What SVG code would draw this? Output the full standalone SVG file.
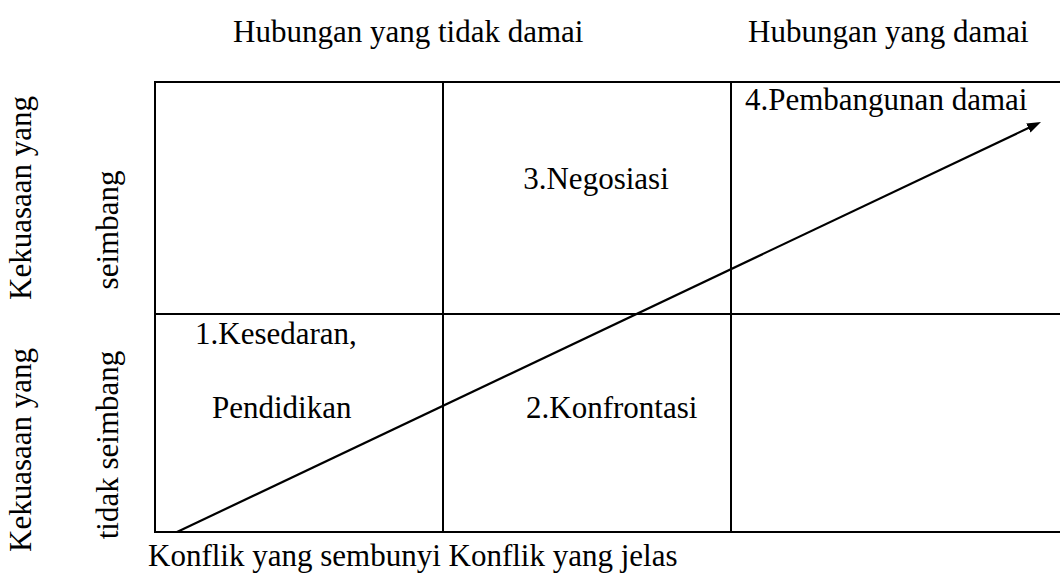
<svg xmlns="http://www.w3.org/2000/svg" width="1060" height="574" viewBox="0 0 1060 574">
  <style>
    .t { font-family: "Liberation Serif", "Times New Roman", serif; font-size: 31px; fill: #000; }
    .g { stroke: #000; stroke-width: 2; fill: none; }
    .c { stroke: #000; stroke-width: 2.2; fill: none; }
  </style>
  <defs>
    <marker id="ah" markerUnits="userSpaceOnUse" markerWidth="14" markerHeight="10" viewBox="0 0 14 10" refX="4" refY="5" orient="auto">
      <path d="M0,0 L14,5 L0,10 Z" fill="#000"/>
    </marker>
  </defs>
  <rect width="1060" height="574" fill="#fff"/>
  <g id="grid" class="g">
    <line x1="154" y1="82" x2="1061" y2="82"/>
    <line x1="154" y1="314" x2="1061" y2="314"/>
    <line x1="154" y1="532" x2="1061" y2="532"/>
    <line x1="155" y1="81" x2="155" y2="533"/>
    <line x1="443" y1="81" x2="443" y2="533"/>
    <line x1="731" y1="81" x2="731" y2="533"/>
  </g>
  <g id="header-tidak-damai"><text class="t" x="233" y="42">Hubungan yang tidak damai</text></g>
  <g id="header-damai"><text class="t" x="748" y="42">Hubungan yang damai</text></g>
  <g id="row-seimbang">
    <text class="t" transform="translate(31,198) rotate(-90)" text-anchor="middle">Kekuasaan yang</text>
    <text class="t" transform="translate(118,230) rotate(-90)" text-anchor="middle">seimbang</text>
  </g>
  <g id="row-tidak-seimbang">
    <text class="t" transform="translate(31,450) rotate(-90)" text-anchor="middle">Kekuasaan yang</text>
    <text class="t" transform="translate(118,445) rotate(-90)" text-anchor="middle">tidak seimbang</text>
  </g>
  <g id="cell-1"><text class="t" x="195" y="344">1.Kesedaran,</text><text class="t" x="212" y="418">Pendidikan</text></g>
  <g id="cell-2"><text class="t" x="526" y="418">2.Konfrontasi</text></g>
  <g id="cell-3"><text class="t" x="596" y="189" text-anchor="middle">3.Negosiasi</text></g>
  <g id="cell-4"><text class="t" x="745" y="110">4.Pembangunan damai</text></g>
  <g id="footer"><text class="t" x="148" y="566">Konflik yang sembunyi Konflik yang jelas</text></g>
  <g id="connectors">
    <line class="c" x1="177" y1="532" x2="1031.97" y2="126.29" marker-end="url(#ah)"/>
  </g>
</svg>
